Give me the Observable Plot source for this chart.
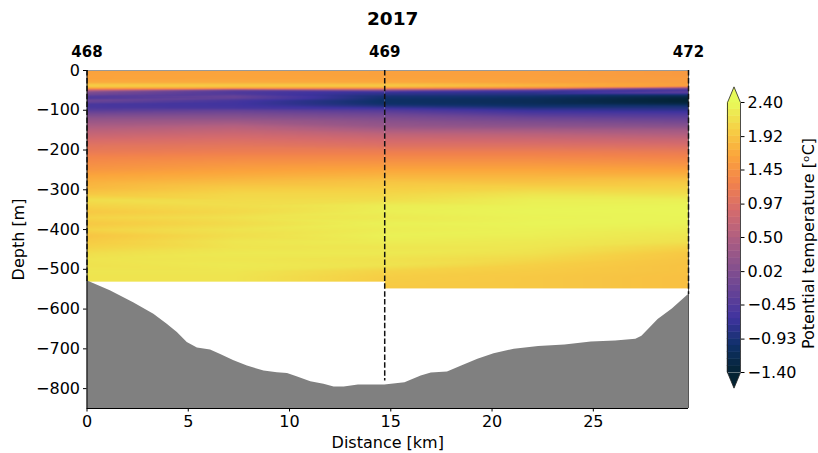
<!DOCTYPE html>
<html><head><meta charset="utf-8">
<script src="https://cdn.jsdelivr.net/npm/d3@7"></script>
<script src="https://cdn.jsdelivr.net/npm/@observablehq/plot@0.6"></script>
<style>
body{margin:0;background:#fff;}
#chart{position:relative;width:818px;height:453px;}
#chart svg{position:absolute;left:0;top:0;}
</style></head><body><div id="chart"></div>
<script>
const title = "2017";
const xLabel = "Distance [km]";
const yLabel = "Depth [m]";
const colorLabel = "Potential temperature [ᵒC]";

const stationNames = ["468", "469", "472"];
const stationDist = [0, 14.7, 29.7];
const stationCastDepth = [531, 781, 563];

const sectionStart = [0, 14.7];
const sectionEnd = [14.7, 29.7];
const sectionBottom = [531, 548];

const depthLevels = [0,10,20,30,35,40,45,50,55,60,65,70,75,80,85,90,95,100,110,120,130,140,150,160,175,190,205,220,235,250,265,280,295,310,325,340,355,370,385,400,415,430,445,460,475,490,505,520,535,550];
const profileDist = [0, 7.3, 14.7, 22, 29.7];
const temp468 = [1.60,1.62,1.62,1.70,1.95,2.00,1.60,0.60,0.00,-0.15,-0.45,-0.50,-0.20,-0.30,-0.55,-0.55,-0.50,-0.40,-0.10,0.15,0.30,0.45,0.60,0.72,0.90,1.05,1.15,1.30,1.40,1.50,1.65,1.75,1.82,1.95,2.15,2.05,1.95,2.05,1.95,2.05,1.92,1.98,2.05,2.15,2.20,2.18,2.22,2.20,2.20,2.20];
const tempMidA = [1.62,1.63,1.64,1.70,1.92,1.95,1.50,-0.30,-0.50,-0.45,-0.25,-0.30,-0.55,-0.60,-0.62,-0.60,-0.55,-0.30,-0.05,0.15,0.35,0.55,0.68,0.80,0.95,1.08,1.20,1.35,1.48,1.60,1.72,1.85,1.98,2.08,2.12,2.15,2.10,2.18,2.12,2.20,2.15,2.22,2.20,2.25,2.22,2.25,2.22,2.20,2.20,2.20];
const temp469 = [1.60,1.60,1.62,1.68,1.90,1.95,1.40,0.00,-0.70,-0.80,-0.95,-1.00,-1.05,-1.05,-1.00,-0.85,-0.65,-0.45,-0.20,0.00,0.15,0.25,0.45,0.65,0.85,1.00,1.20,1.35,1.50,1.65,1.78,1.92,2.00,2.08,2.15,2.28,2.30,2.25,2.32,2.28,2.32,2.28,2.22,2.25,2.18,2.20,2.05,2.00,1.98,1.95];
const tempMidB = [1.58,1.58,1.60,1.62,1.75,1.78,1.20,-0.40,-0.75,-0.85,-1.00,-1.10,-1.15,-1.15,-1.10,-1.00,-0.85,-0.70,-0.45,-0.20,0.00,0.15,0.40,0.60,0.82,1.00,1.20,1.35,1.50,1.65,1.78,1.90,2.05,2.20,2.30,2.33,2.35,2.33,2.35,2.32,2.30,2.25,2.22,2.18,2.10,2.02,1.98,1.95,1.95,1.95];
const temp472 = [1.52,1.52,1.55,1.55,1.58,1.55,-0.10,-0.60,-0.30,-0.85,-1.20,-1.35,-1.40,-1.35,-1.20,-0.95,-0.85,-0.75,-0.50,-0.30,-0.10,0.10,0.35,0.50,0.75,0.95,1.15,1.30,1.45,1.62,1.78,1.95,2.05,2.15,2.30,2.35,2.36,2.35,2.33,2.28,2.22,2.18,2.05,1.95,1.92,1.90,1.90,1.88,1.88,1.88];

const bathyDist = [0,1.15,2.3,3.3,3.96,4.46,4.95,5.45,6.1,6.6,7.26,7.92,8.74,9.4,9.9,10.4,11.05,11.7,12.2,12.7,13.4,13.9,14.7,15.7,16.5,17.0,17.8,18.5,19.3,20.1,21.1,22.3,23.6,24.9,26.1,27.1,27.4,28.2,28.9,29.7];
const bathyDepth = [529,554,584,613,638,659,684,698,703,714,730,743,756,760,762,771,783,789,796,796,791,791,791,785,768,761,758,743,726,712,701,694,690,683,680,676,668,626,600,563];

const xTicks = [0, 5, 10, 15, 20, 25];
const yTicks = [0, -100, -200, -300, -400, -500, -600, -700, -800];
const colorTicks = [-1.40, -0.93, -0.45, 0.02, 0.50, 0.97, 1.45, 1.92, 2.40];
const colorTickLabels = ["−1.40", "−0.93", "−0.45", "0.02", "0.50", "0.97", "1.45", "1.92", "2.40"];
const thermalColors = ["#032333","#0f3169","#3f339f","#674396","#8a528c","#b05f81","#d56b6c","#f2824c","#fba53c","#f6d045","#e7fa5a"];

const xDomain = [0, 29.7];
const yDomain = [-850, 0];
const colorDomain = [-1.4, 2.4];

// ---- build tables ----
const profiles = [temp468, tempMidA, temp469, tempMidB, temp472];
const stations = stationNames.map((name, i) => ({name, dist: stationDist[i], cast: stationCastDepth[i]}));
const bathy = bathyDist.map((d, i) => ({dist: d, depth: bathyDepth[i]}));
function sectionSamples(s) {
  const out = [];
  profileDist.forEach((px, j) => {
    if (px < sectionStart[s] - 1e-9 || px > sectionEnd[s] + 1e-9) return;
    depthLevels.forEach((z, k) => out.push({x: px, y: -z, t: profiles[j][k]}));
  });
  return out;
}
const colorScale = {type: "linear", domain: colorDomain, interpolate: d3.piecewise(d3.interpolateRgb, thermalColors), clamp: true};
const font = "DejaVu Sans, sans-serif";
const fs = 16;

const rasters = sectionStart.map((_, s) => Plot.raster(sectionSamples(s), {
  x: "x", y: "y", fill: "t",
  x1: sectionStart[s], x2: sectionEnd[s], y1: -sectionBottom[s], y2: 0,
  interpolate: "barycentric"
}));

const main = Plot.plot({
  width: 818, height: 453,
  marginLeft: 86.5, marginRight: 130, marginTop: 70, marginBottom: 45,
  style: {fontFamily: font, fontSize: fs + "px", color: "#000"},
  x: {domain: xDomain},
  y: {domain: yDomain},
  color: colorScale,
  marks: [
    ...rasters,
    Plot.areaY(bathy, {x: "dist", y1: yDomain[0], y2: d => -d.depth, fill: "#808080"}),
    Plot.ruleY([yDomain[1]], {stroke: "#999", strokeWidth: 1}),
    Plot.ruleX([xDomain[1]], {stroke: "#555", strokeWidth: 1}),
    Plot.ruleX([xDomain[0]], {stroke: "#000", strokeWidth: 1}),
    Plot.ruleY([yDomain[0]], {stroke: "#000", strokeWidth: 1}),
    Plot.ruleX(stations, {x: "dist", y1: 0, y2: d => -d.cast, stroke: "#111", strokeWidth: 1.5, strokeDasharray: "5.5,2.4"}),
    Plot.axisX({ticks: xTicks, tickSize: 3.5, tickPadding: 3.5, label: null, fontSize: fs}),
    Plot.axisY({ticks: yTicks, tickSize: 3.5, tickPadding: 3.5, label: null, fontSize: fs}),
    Plot.text(stations, {x: "dist", text: "name", frameAnchor: "top", lineAnchor: "middle", dy: -18, fontWeight: "bold", fontSize: 15}),
    Plot.text([title], {frameAnchor: "top", lineAnchor: "middle", textAnchor: "middle", dy: -51, dx: 5, fontWeight: "bold", fontSize: 18.5}),
    Plot.text([xLabel], {frameAnchor: "bottom", lineAnchor: "middle", textAnchor: "middle", dy: 34, fontSize: fs}),
    Plot.text([yLabel], {frameAnchor: "left", lineAnchor: "middle", textAnchor: "middle", dx: -68, rotate: -90, fontSize: fs})
  ]
});

// ---- colorbar ----
const nLevels = 40;
const step = (colorDomain[1] - colorDomain[0]) / nLevels;
const levels = d3.range(nLevels).map(i => colorDomain[0] + i * step);
const ext = 0.22;
const lo = colorDomain[0], hi = colorDomain[1];
const topTri = [{x: 0, y: hi}, {x: 0.5, y: hi + ext}, {x: 1, y: hi}];
const botTri = [{x: 0, y: lo}, {x: 0.5, y: lo - ext}, {x: 1, y: lo}];
const outline = [{x: 0, y: lo}, {x: 0, y: hi}, {x: 0.5, y: hi + ext}, {x: 1, y: hi}, {x: 1, y: lo}, {x: 0.5, y: lo - ext}, {x: 0, y: lo}];

const cbar = Plot.plot({
  width: 818, height: 453,
  marginLeft: 727, marginRight: 78, marginTop: 102, marginBottom: 81,
  style: {fontFamily: font, fontSize: fs + "px", background: "transparent", color: "#000"},
  x: {domain: [0, 1], axis: null},
  y: {domain: colorDomain},
  color: colorScale,
  marks: [
    Plot.rect(levels, {x1: 0, x2: 1, y1: d => d, y2: d => d + step, fill: d => d + step / 2, stroke: d => d + step / 2, strokeWidth: 0.5}),
    Plot.line(topTri, {x: "x", y: "y", fill: thermalColors[thermalColors.length - 1], stroke: "none"}),
    Plot.line(botTri, {x: "x", y: "y", fill: thermalColors[0], stroke: "none"}),
    Plot.line(outline, {x: "x", y: "y", stroke: "#222", strokeWidth: 0.8}),
    Plot.axisY({anchor: "right", ticks: colorTicks, tickFormat: d => colorTickLabels[colorTicks.indexOf(d)], tickSize: 3.5, tickPadding: 3.5, label: null, fontSize: fs}),
    Plot.text([colorLabel], {frameAnchor: "right", lineAnchor: "middle", textAnchor: "middle", dx: 68, dy: 6, rotate: -90, fontSize: fs})
  ]
});

const el = document.getElementById("chart");
el.append(main);
el.append(cbar);
</script></body></html>
